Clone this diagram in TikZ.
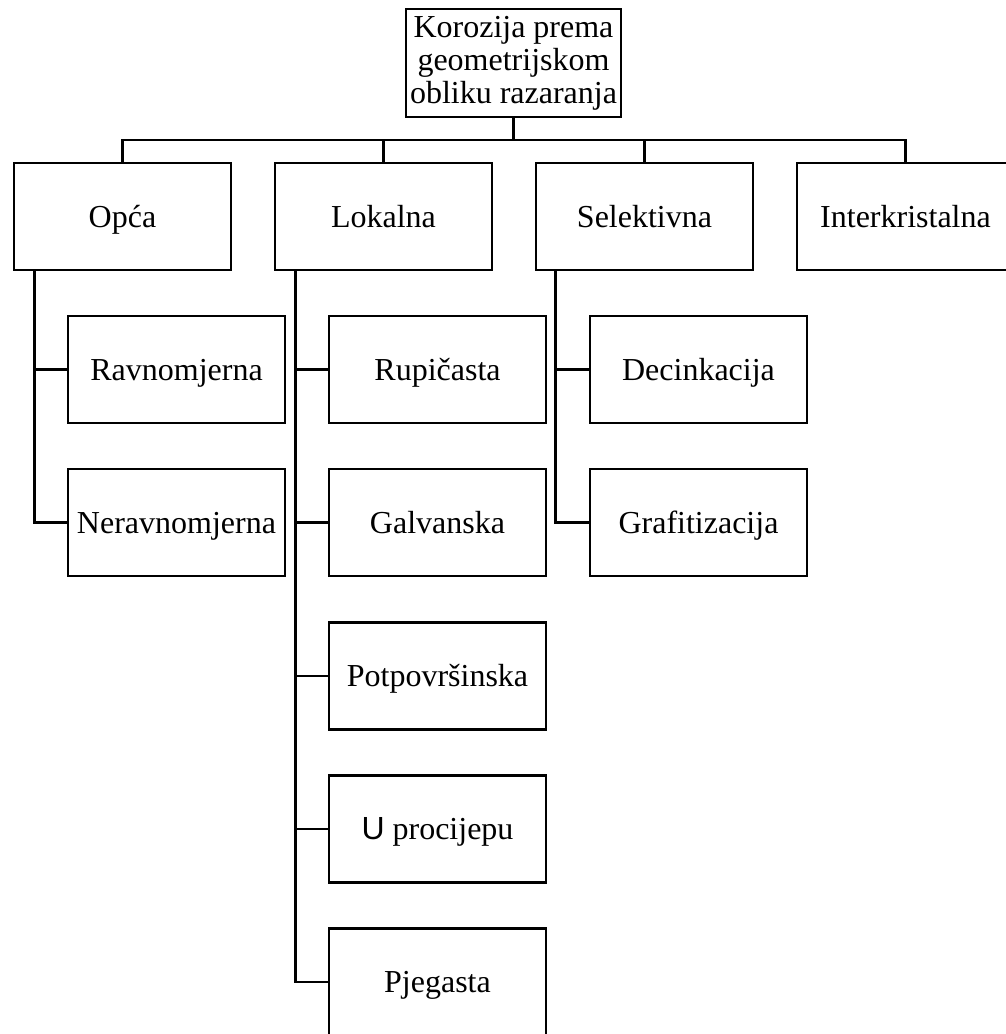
\documentclass[tikz,border=0pt]{standalone}
\usepackage{fontspec}
\setmainfont{Liberation Serif}
\newfontfamily\sansU{Liberation Sans}
\begin{document}
\begin{tikzpicture}[x=1pt,y=-1pt,
  boxbase/.style={draw,rectangle,line width=2.8pt,minimum width=217pt,minimum height=107pt,inner sep=0pt,align=center,
    font=\fontsize{32}{33}\selectfont},
  box/.style={boxbase,text height=24pt,text depth=3pt},
  conn/.style={line width=2.8pt}]
\useasboundingbox (0,0) rectangle (1005,1034);
\node[boxbase,minimum width=215pt,minimum height=108pt] (top) at (513.5,63) {Korozija prema\\geometrijskom\\obliku razaranja};
\node[box] (opca) at (122.5,216.5) {Opća};
\node[box] (lok) at (383.5,216.5) {Lokalna};
\node[box] (sel) at (644.5,216.5) {Selektivna};
\node[box] (inter) at (905.5,216.5) {Interkristalna};
\node[box] (rav) at (176.5,369.5) {Ravnomjerna};
\node[box] (nerav) at (176.5,522.5) {Neravnomjerna};
\node[box] (rup) at (437.5,369.5) {Rupičasta};
\node[box] (gal) at (437.5,522.5) {Galvanska};
\node[box] (pot) at (437.5,676) {Potpovršinska};
\node[box] (upro) at (437.5,829) {{\sansU U} procijepu};
\node[box] (pje) at (437.5,982) {Pjegasta};
\node[box] (dec) at (698.5,369.5) {Decinkacija};
\node[box] (graf) at (698.5,522.5) {Grafitizacija};
\coordinate (bus) at (513.5,140);
\draw[conn] (top.south) -- (bus);
\draw[conn] (opca.north) |- (bus) -| (inter.north);
\draw[conn] (lok.north) -- (lok.north |- bus);
\draw[conn] (sel.north) -- (sel.north |- bus);
\draw[conn] ([xshift=22pt]opca.south west) |- (nerav.west);
\draw[conn] ([xshift=22pt]opca.south west) |- (rav.west);
\draw[conn] ([xshift=22pt]lok.south west) |- (pje.west);
\draw[conn] ([xshift=22pt]lok.south west) |- (rup.west);
\draw[conn] ([xshift=22pt]lok.south west) |- (gal.west);
\draw[conn] ([xshift=22pt]lok.south west) |- (pot.west);
\draw[conn] ([xshift=22pt]lok.south west) |- (upro.west);
\draw[conn] ([xshift=21pt]sel.south west) |- (graf.west);
\draw[conn] ([xshift=21pt]sel.south west) |- (dec.west);
\end{tikzpicture}
\end{document}
